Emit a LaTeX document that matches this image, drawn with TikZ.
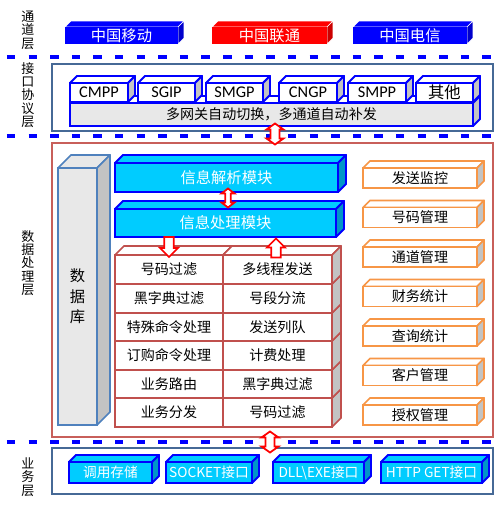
\documentclass[tikz,border=0pt]{standalone}
\usepackage{fontspec}
\setmainfont{Noto Sans CJK SC}
\newfontfamily\protofont{Carlito}
\usetikzlibrary{calc}

\definecolor{chanblue}{RGB}{0,0,255}
\definecolor{chanred}{RGB}{255,0,0}
\definecolor{modcyan}{RGB}{0,204,255}
\definecolor{modside}{RGB}{0,150,200}
\definecolor{framesteel}{RGB}{70,105,150}
\definecolor{framered}{RGB}{200,95,90}
\definecolor{cellred}{RGB}{192,80,77}
\definecolor{mgmtorange}{RGB}{247,150,70}
\definecolor{dbsteel}{RGB}{79,129,189}
\definecolor{sidegray}{RGB}{195,195,195}
\definecolor{bargray}{RGB}{232,232,232}

\newcommand{\solidbox}[6][6]{%
  \coordinate (#3-nw) at #4;
  \coordinate (#3-se) at #5;
  \filldraw[#2-top] (#3-nw) -- ++(#1,-#1) -- ($(#3-nw -| #3-se)+(#1,-#1)$) -- (#3-nw -| #3-se) -- cycle;
  \filldraw[#2-side] (#3-nw -| #3-se) -- ++(#1,-#1) -- ($(#3-se)+(#1,-#1)$) -- (#3-se) -- cycle;
  \filldraw[#2-front] (#3-nw) rectangle (#3-se);
  \node[#2-text] (#3) at ($(#3-nw)!.5!(#3-se)$) {#6};
}
\newcommand{\twowayarrow}[6]{%
  \coordinate (#1) at #2;
  \draw[blockarrow] (#1) ++(0,-#3) -- ++(#4,#6) -- ++({#5-#4},0) -- ++(0,{2*#3-2*#6}) -- ++({#4-#5},0) -- ++(-#4,#6) -- ++(-#4,-#6) -- ++({#4-#5},0) -- ++(0,{-2*#3+2*#6}) -- ++({#5-#4},0) -- cycle;
}
\newcommand{\onewayarrow}[7]{%
  \coordinate (#1) at #2;
  \draw[blockarrow] (#1) ++(0,{(#7)*#3}) -- ++(-#4,{-(#7)*#6}) -- ++({#4-#5},0) -- ++(0,{-(#7)*(2*#3-#6)}) -- ++({2*#5},0) -- ++(0,{(#7)*(2*#3-#6)}) -- ++({#4-#5},0) -- cycle;
}

\tikzset{
  layerline/.style={chanblue, line width=1.9pt, dash pattern=on 4.8pt off 7.5pt},
  layername/.style={align=center, inner sep=0pt, font=\fontsize{7.4}{7.6}\selectfont},
  steelframe/.style={draw=framesteel, line width=1.1pt},
  redframe/.style={draw=framered, line width=1.1pt},
  chan-top/.style={fill=chanblue, draw=white, line width=0.3pt},
  chan-side/.style={fill=chanblue!80!black, draw=white, line width=0.3pt},
  chan-front/.style={fill=chanblue, draw=none},
  chan-text/.style={text=white, inner sep=0pt, font=\fontsize{8.7}{9}\selectfont},
  unicom-top/.style={chan-top, fill=chanred},
  unicom-side/.style={chan-side, fill=chanred!80!black},
  unicom-front/.style={chan-front, fill=chanred},
  unicom-text/.style={chan-text},
  proto-top/.style={fill=white, draw=chanblue, line width=1.1pt, line join=round},
  proto-side/.style={fill=sidegray, draw=chanblue, line width=1.1pt, line join=round},
  proto-front/.style={fill=white, draw=chanblue, line width=1.1pt},
  proto-text/.style={inner sep=0pt, font=\protofont\fontsize{9.3}{10}\selectfont},
  bar-top/.style={proto-top},
  bar-side/.style={proto-side},
  bar-front/.style={proto-front, fill=bargray},
  bar-text/.style={inner sep=0pt, font=\fontsize{8}{9}\selectfont},
  mod-top/.style={fill=modcyan, draw=chanblue, line width=1.1pt, line join=round},
  mod-side/.style={fill=modside, draw=chanblue, line width=1.1pt, line join=round},
  mod-front/.style={fill=modcyan, draw=chanblue, line width=1.1pt},
  mod-text/.style={text=white, inner sep=0pt, font=\fontsize{8.7}{9}\selectfont},
  biz-top/.style={mod-top},
  biz-side/.style={mod-side},
  biz-front/.style={mod-front},
  biz-text/.style={mod-text, font=\fontsize{7.8}{9}\selectfont},
  cell-top/.style={fill=white, draw=cellred, line width=1pt, line join=round},
  cell-side/.style={fill=sidegray, draw=cellred, line width=1pt, line join=round},
  cell-front/.style={fill=white, draw=cellred, line width=1pt},
  cell-text/.style={inner sep=0pt, font=\fontsize{8}{9}\selectfont},
  mgmt-top/.style={fill=white, draw=mgmtorange, line width=1pt, line join=round},
  mgmt-side/.style={fill=sidegray, draw=mgmtorange, line width=1pt, line join=round},
  mgmt-front/.style={fill=white, draw=mgmtorange, line width=1pt},
  mgmt-text/.style={cell-text},
  db-top/.style={fill=bargray, draw=dbsteel, line width=1pt, line join=round},
  db-side/.style={fill=sidegray, draw=dbsteel, line width=1pt, line join=round},
  db-front/.style={fill=bargray, draw=dbsteel, line width=1pt},
  db-text/.style={align=center, inner sep=0pt, font=\fontsize{8.7}{11.7}\selectfont},
  blockarrow/.style={draw=red, fill=white, line width=1pt, line join=miter}
}

\begin{document}
\begin{tikzpicture}[x=0.02cm, y=-0.02cm]
\useasboundingbox (0,0) rectangle (500,522);

\node[layername] (chanlayer) at (28,30) {通\\道\\层};
\node[layername] (protolayer) at (28,95) {接\\口\\协\\议\\层};
\node[layername] (datalayer) at (28,263) {数\\据\\处\\理\\层};
\node[layername] (bizlayer) at (28,477) {业\\务\\层};

\draw[layerline] (7,57) -- (500,57);
\draw[layerline] (7,136) -- (500,136);
\draw[layerline] (7,442) -- (500,442);

\solidbox{chan}{mobile}{(65,27)}{(178,44)}{中国移动}
\solidbox{unicom}{unicom}{(212,27)}{(327,44)}{中国联通}
\solidbox{chan}{telecom}{(353,27)}{(467,44)}{中国电信}

\draw[steelframe, fill=white] (52,64) rectangle (493,131);
\solidbox[7]{bar}{switch}{(70,103)}{(473,126)}{多网关自动切换，多通道自动补发}
\solidbox[7]{proto}{cmpp}{(70,83)}{(128,102)}{CMPP}
\solidbox[7]{proto}{sgip}{(138,83)}{(195,102)}{SGIP}
\solidbox[7]{proto}{smgp}{(206,83)}{(263,102)}{SMGP}
\solidbox[7]{proto}{cngp}{(279,83)}{(337,102)}{CNGP}
\solidbox[7]{proto}{smpp}{(348,83)}{(406,102)}{SMPP}
\solidbox[7]{proto}{other}{(416,83)}{(473,102)}{\rmfamily 其他}

\draw[redframe, fill=white] (52,143) rectangle (493,437);
\solidbox[13]{db}{database}{(58,168)}{(97,425)}{数\\据\\库}
\solidbox[8]{mod}{parse}{(115,163)}{(338,192)}{信息解析模块}
\solidbox[8]{mod}{process}{(115,209)}{(336,237)}{信息处理模块}

\foreach \n/\ytop/\ybot/\ltext/\rtext in {6/398/427/业务分发/号码过滤, 5/370/398/业务路由/黑字典过滤, 4/341/370/订购命令处理/计费处理, 3/313/341/特殊命令处理/发送列队, 2/284/313/黑字典过滤/号段分流, 1/255/284/号码过滤/多线程发送}{
  \solidbox[9]{cell}{cellL\n}{(115,\ytop)}{(223,\ybot)}{\ltext}
  \solidbox[9]{cell}{cellR\n}{(223,\ytop)}{(332,\ybot)}{\rtext}
}

\foreach \txt [count=\i from 0] in {发送监控,号码管理,通道管理,财务统计,查询统计,客户管理,授权管理}{
  \pgfmathsetmacro{\ytop}{168+39.5*\i}
  \solidbox[7]{mgmt}{mgmt\i}{(363,\ytop)}{(477,\ytop+20)}{\txt}
}

\draw[steelframe, fill=white] (52,448) rectangle (493,494);
\solidbox[7]{biz}{storage}{(69,462)}{(152,483)}{调用存储}
\solidbox[7]{biz}{socket}{(166,462)}{(252,483)}{SOCKET接口}
\solidbox[7]{biz}{dllexe}{(273,462)}{(364,483)}{DLL\textbackslash EXE接口}
\solidbox[7]{biz}{httpget}{(381,462)}{(482,483)}{HTTP GET接口}

\twowayarrow{protodata}{(275,134)}{10.5}{8.5}{4.5}{6}
\twowayarrow{parseproc}{(228,198)}{9.5}{6.5}{2.8}{5}
\onewayarrow{procdown}{(169,247)}{10}{9}{4.7}{9}{1}
\onewayarrow{procup}{(276,248)}{9.5}{9}{4.7}{9}{-1}
\twowayarrow{databiz}{(270,442)}{10.5}{8.5}{4.5}{6}
\end{tikzpicture}
\end{document}
